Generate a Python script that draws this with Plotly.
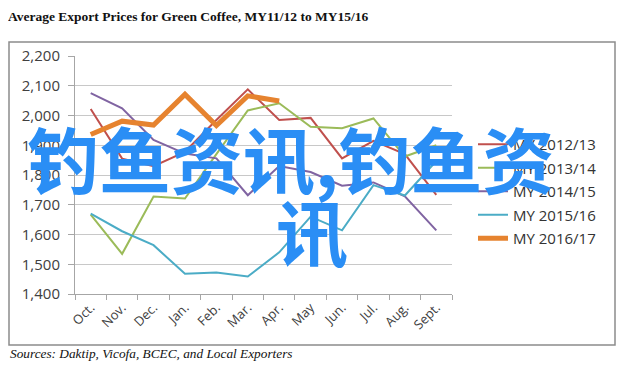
import plotly.graph_objects as go

months = ["Oct.", "Nov.", "Dec.", "Jan.", "Feb.", "Mar.", "Apr.", "May", "Jun.", "Jul.", "Aug.", "Sept."]

my_2012_13 = [2022, 1855, 1830, 1878, 1985, 2088, 1985, 1992, 1856, 1915, 1870, 1733]
my_2013_14 = [1667, 1535, 1728, 1721, 1870, 2017, 2041, 1962, 1957, 1990, 1862, 1900]
my_2014_15 = [2075, 2024, 1918, 1872, 1856, 1732, 1830, 1810, 1764, 1775, 1728, 1614]
my_2015_16 = [1670, 1611, 1564, 1468, 1472, 1459, 1540, 1660, 1614, 1766, 1731, 1847]
my_2016_17 = [1936, 1981, 1968, 2071, 1966, 2066, 2049]

series_names = ["MY 2012/13", "MY 2013/14", "MY 2014/15", "MY 2015/16", "MY 2016/17"]
series_values = [my_2012_13, my_2013_14, my_2014_15, my_2015_16, my_2016_17]
colors = ["#C0504D", "#9BBB59", "#8064A2", "#4BACC6", "#E6832F"]
widths = [2, 2, 2, 2, 5]

y_ticks = [1400, 1500, 1600, 1700, 1800, 1900, 2000, 2100, 2200]

# page offset (browser body margin) compensation
OFF = 8
W, H = 628 - OFF, 372 - OFF
# plot area in reference-pixel coordinates
L, R, T, B = 75, 452, 56, 294
pw, ph = R - L, B - T

def px(x):
    return (x - L) / pw

def py(y):
    return (B - y) / ph

fig = go.Figure()
for i, (name, vals) in enumerate(zip(series_names, series_values)):
    fig.add_trace(go.Scatter(
        x=months[:len(vals)], y=vals, name=name, mode="lines",
        line=dict(color=colors[i], width=widths[i]),
        legendgroup=name,
    ))

fig.update_layout(
    width=W, height=H,
    margin=dict(l=L - OFF, r=628 - R, t=T - OFF, b=372 - B, autoexpand=False),
    paper_bgcolor="white", plot_bgcolor="white",
    showlegend=True,
    title=dict(
        text="<b>Average Export Prices for Green Coffee, MY11/12 to MY15/16</b>",
        x=0.0, xanchor="left", xref="container",
        y=1 - (16 - OFF) / H, yanchor="middle", yref="container",
        font=dict(family="Liberation Serif", size=13.5, color="#111111"),
    ),
    legend=dict(
        x=px(473), xanchor="left", y=py(128), yanchor="top",
        font=dict(family="Open Sans", size=15, color="#333333"),
        tracegroupgap=1, bgcolor="rgba(0,0,0,0)", itemwidth=30,
    ),
    xaxis=dict(
        type="category", categoryorder="array", categoryarray=months,
        range=[-0.5, 11.5],
        showline=True, linecolor="#A6A6A6", linewidth=1,
        ticks="outside", tickson="boundaries", ticklen=5, tickcolor="#A6A6A6",
        tickangle=-45, showgrid=False,
        tickfont=dict(family="Open Sans", size=13, color="#404040"),
    ),
    yaxis=dict(
        range=[1400, 2200], tickvals=y_ticks,
        ticktext=[f"{v:,}" for v in y_ticks],
        showgrid=True, gridcolor="#C8C8C8", gridwidth=1,
        showline=True, linecolor="#A6A6A6", linewidth=1,
        ticks="outside", ticklen=6, tickcolor="#A6A6A6",
        ticklabelstandoff=5,
        tickfont=dict(family="Open Sans", size=15, color="#404040"),
        zeroline=False,
    ),
)

# outer chart frame
fig.add_shape(type="rect", xref="paper", yref="paper",
              x0=px(9), x1=px(615), y0=py(345), y1=py(42),
              line=dict(color="#8C8C8C", width=1.5), fillcolor="rgba(0,0,0,0)", layer="below")

fig.add_annotation(
    text="<i>Sources: Daktip, Vicofa, BCEC, and Local Exporters</i>",
    xref="paper", yref="paper", x=px(8), y=py(353), xanchor="left", yanchor="middle",
    showarrow=False, font=dict(family="Liberation Serif", size=13.3, color="#111111"),
)

# overlay watermark text
fig.add_annotation(
    text="<b>钓鱼资讯,钓鱼资</b>", xref="paper", yref="paper", x=px(290), y=py(156),
    xanchor="center", yanchor="middle", showarrow=False,
    font=dict(family="Noto Sans CJK SC", size=72, color="#2A8EF5"),
)
fig.add_annotation(
    text="<b>讯</b>", xref="paper", yref="paper", x=px(312), y=py(229),
    xanchor="center", yanchor="middle", showarrow=False,
    font=dict(family="Noto Sans CJK SC", size=72, color="#2A8EF5"),
)

fig.write_html("out.html")
